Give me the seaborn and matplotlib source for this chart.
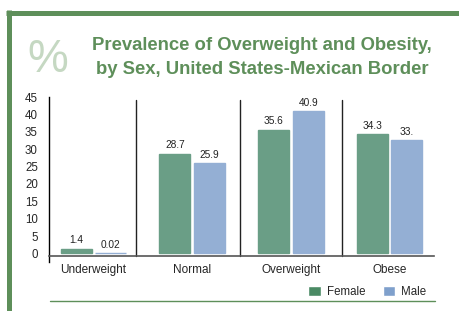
import matplotlib
matplotlib.use("Agg")
import matplotlib.pyplot as plt
import seaborn as sns
import pandas as pd
from matplotlib.patches import Patch
from matplotlib.lines import Line2D

categories = ["Underweight", "Normal", "Overweight", "Obese"]
female = [1.4, 28.7, 35.6, 34.3]
male = [0.02, 25.9, 40.9, 32.6]
female_labels = ["1.4", "28.7", "35.6", "34.3"]
male_labels = ["0.02", "25.9", "40.9", "33."]
yticks = [0, 5, 10, 15, 20, 25, 30, 35, 40, 45]

df = pd.DataFrame({
    "Category": categories * 2,
    "Sex": ["Female"] * 4 + ["Male"] * 4,
    "Value": female + male,
})

sns.set_theme(style="white")
plt.rcParams["font.family"] = ["Liberation Sans", "DejaVu Sans"]

GREEN = "#5e8f5a"
bar_colors = {"Female": "#6a9e86", "Male": "#94afd4"}

fig = plt.figure(figsize=(4.59, 3.11), dpi=100)
fig.patch.set_facecolor("white")

# frame lines
fig.add_artist(Line2D([6 / 459, 1.0], [1 - 12.5 / 311] * 2, color=GREEN, lw=3.6, solid_capstyle="butt"))
fig.add_artist(Line2D([8.5 / 459] * 2, [1 - 10 / 311, 0], color=GREEN, lw=3.6, solid_capstyle="butt"))
fig.add_artist(Line2D([50 / 459, 435 / 459], [1 - 301 / 311] * 2, color=GREEN, lw=1.0))

fig.text(48 / 459, 1 - 60 / 311, "%", color="#c5d8c2", fontsize=33,
         ha="center", va="center")
fig.text(262 / 459, 1 - 45 / 311, "Prevalence of Overweight and Obesity,", color=GREEN,
         fontsize=13.3, fontweight="bold", ha="center", va="center")
fig.text(262 / 459, 1 - 70 / 311, "by Sex, United States-Mexican Border", color=GREEN,
         fontsize=13.3, fontweight="bold", ha="center", va="center")

ax = fig.add_axes([49 / 459, 1 - 255.5 / 311, (434 - 49) / 459, (255.5 - 97) / 311])
sns.barplot(data=df, x="Category", y="Value", hue="Sex", palette=bar_colors,
            width=0.7, gap=0.1, ax=ax, legend=False, saturation=1)
for cont, col in zip(ax.containers, ["#6a9e86", "#94afd4"]):
    for bar in cont:
        bar.set_edgecolor(col)
        bar.set_linewidth(1.0)
        bar.set_zorder(3)

ax.set_xlim(-0.45, 3.45)
ax.set_ylim(-0.6, 45)
ax.set_yticks(yticks)
ax.set_yticklabels([str(t) for t in yticks], fontsize=8.3)
ax.tick_params(axis="y", length=0, pad=8)
ax.tick_params(axis="x", length=0, pad=6, labelsize=8.5)
ax.set_xlabel("")
ax.set_ylabel("")
for s in ["top", "right"]:
    ax.spines[s].set_visible(False)
ax.spines["left"].set_color("black")
ax.spines["left"].set_linewidth(1.0)
ax.spines["left"].set_bounds(-2.6, 45)
ax.spines["bottom"].set_color("#555555")
ax.spines["bottom"].set_linewidth(1.2)

for xs in [0.43, 1.48, 2.52]:
    ax.plot([xs, xs], [-0.6, 44.2], color="#222222", lw=1.0, clip_on=False)

for cont, labels in zip(ax.containers, [female_labels, male_labels]):
    for bar, lab in zip(cont, labels):
        ax.text(bar.get_x() + bar.get_width() / 2, bar.get_height() + 1.0, lab,
                ha="center", va="bottom", fontsize=7.3, color="#222222")

handles = [Patch(facecolor="#4a8a64", label="Female"), Patch(facecolor="#7fa0cc", label="Male")]
fig.legend(handles=handles, loc="center right", bbox_to_anchor=(432 / 459, 1 - 292 / 311),
           ncol=2, frameon=False, fontsize=8.3, handlelength=1.1, handleheight=0.9,
           handletextpad=0.5, columnspacing=1.5, borderpad=0)

fig.savefig("out.png", dpi=100, facecolor="white")
